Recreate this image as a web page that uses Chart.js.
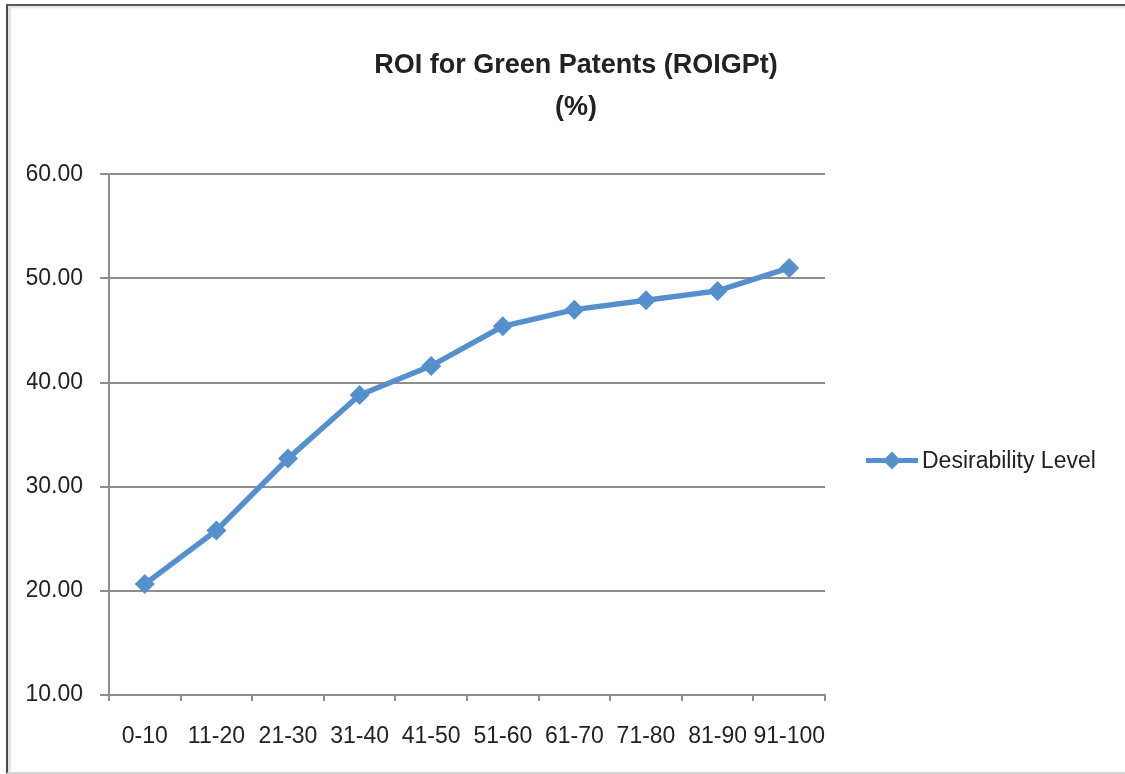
<!DOCTYPE html>
<html>
<head>
<meta charset="utf-8">
<script src="https://cdn.jsdelivr.net/npm/chart.js@4/dist/chart.umd.min.js"></script>
<style>
  html, body { margin: 0; padding: 0; background: #ffffff; }
  #wrap { position: relative; width: 1125px; height: 774px; overflow: hidden; }
  #c { position: absolute; left: 0; top: 0; }
  #frame { position: absolute; left: 6px; top: 4px; width: 1125px; height: 766px;
           border-top: 2px solid #5a5a5a; border-left: 2px solid #4a4a4a; border-bottom: 2px solid #d6d6d6;
           box-shadow: inset 3px 2px 2px #e2e2e2; pointer-events: none; }
</style>
</head>
<body>
<div id="wrap">
  <canvas id="c" width="1125" height="774"></canvas>
  <div id="frame"></div>
</div>
<script>
const titleLines = ['ROI for Green Patents (ROIGPt)', '(%)'];
const categories = ['0-10', '11-20', '21-30', '31-40', '41-50', '51-60', '61-70', '71-80', '81-90', '91-100'];
const seriesName = 'Desirability Level';
const desirability = [20.65, 25.8, 32.7, 38.8, 41.6, 45.4, 47.0, 47.9, 48.8, 51.0];
const yMin = 10, yMax = 60, yStep = 10;

const FONT = "'Liberation Sans', Arial, sans-serif";
const LINE_COLOR = '#5690cc';
const GRID = '#8e8e8e';
const TEXT = '#222222';

const legendPlugin = {
  id: 'sideLegend',
  afterDraw(chart) {
    const ctx = chart.ctx;
    const a = chart.chartArea;
    const x0 = a.right + 41;
    const y = (a.top + a.bottom) / 2 + 26;
    ctx.save();
    ctx.strokeStyle = LINE_COLOR;
    ctx.lineWidth = 5;
    ctx.beginPath();
    ctx.moveTo(x0, y);
    ctx.lineTo(x0 + 52, y);
    ctx.stroke();
    ctx.fillStyle = LINE_COLOR;
    ctx.beginPath();
    const cx = x0 + 26, r = 9;
    ctx.moveTo(cx, y - r); ctx.lineTo(cx + r, y); ctx.lineTo(cx, y + r); ctx.lineTo(cx - r, y); ctx.closePath();
    ctx.fill();
    ctx.fillStyle = TEXT;
    ctx.font = '23px ' + FONT;
    ctx.textBaseline = 'middle';
    ctx.textAlign = 'left';
    ctx.fillText(seriesName, x0 + 56, y + 1);
    ctx.restore();
  }
};

new Chart(document.getElementById('c'), {
  type: 'line',
  data: {
    labels: categories,
    datasets: [{
      label: seriesName,
      data: desirability,
      borderColor: LINE_COLOR,
      backgroundColor: LINE_COLOR,
      borderWidth: 5.5,
      pointStyle: 'rectRot',
      pointRadius: 10,
      pointBorderWidth: 0,
      pointBackgroundColor: LINE_COLOR,
      tension: 0,
      fill: false,
      yAxisID: 'y'
    }]
  },
  options: {
    responsive: false,
    animation: false,
    devicePixelRatio: 1,
    layout: { padding: { left: 27, right: 0, top: 0, bottom: 0 } },
    plugins: {
      legend: { display: false },
      tooltip: { enabled: false },
      title: {
        display: true,
        text: titleLines,
        color: TEXT,
        font: { family: FONT, size: 27, weight: 'bold', lineHeight: 1.56 },
        padding: { top: 44, bottom: 46 }
      }
    },
    scales: {
      x: {
        type: 'category',
        offset: true,
        afterFit(scale) { scale.height = 79; },
        grid: { display: true, drawOnChartArea: false, offset: true, color: GRID, lineWidth: 2, tickLength: 6 },
        border: { display: true, color: GRID, width: 2 },
        ticks: { color: TEXT, font: { family: FONT, size: 23 }, padding: 22, maxRotation: 0, autoSkip: false }
      },
      y: {
        position: 'left',
        min: yMin, max: yMax,
        afterFit(scale) { scale.width = 82; },
        grid: { color: GRID, lineWidth: 2, tickLength: 9 },
        border: { display: true, color: GRID, width: 2 },
        ticks: {
          stepSize: yStep, color: TEXT, padding: 17,
          font: { family: FONT, size: 23 },
          callback: v => Number(v).toFixed(2)
        }
      },
      legendSpace: {
        type: 'linear',
        position: 'right',
        display: true,
        min: yMin, max: yMax,
        afterFit(scale) { scale.width = 300; },
        grid: { display: false },
        border: { display: false },
        ticks: { display: false }
      }
    }
  },
  plugins: [legendPlugin]
});
</script>
</body>
</html>
